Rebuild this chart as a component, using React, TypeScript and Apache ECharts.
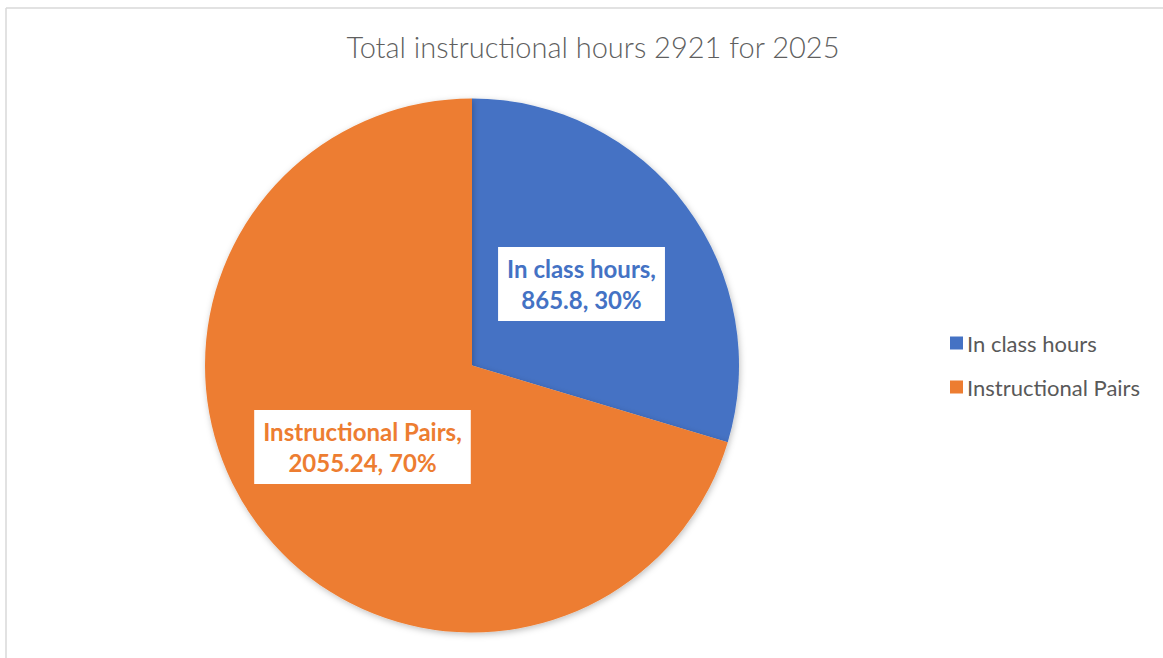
import React, { useEffect, useRef } from "react";
import * as echarts from "echarts";

const titleText = "Total instructional hours 2921 for 2025";
const categories = ["In class hours", "Instructional Pairs"];
const values = [865.8, 2055.24];
const percents = [30, 70];
const colors = ["#4472C4", "#ED7D31"];

export default function App() {
  const ref = useRef<HTMLDivElement>(null);
  useEffect(() => {
    document.body.style.margin = "0";
    const chart = echarts.init(ref.current!, null, { renderer: "svg" });
    const data = categories.map((name, i) => ({
      name,
      value: values[i],
      itemStyle: { color: colors[i] },
      label: { color: colors[i] },
    }));
    chart.setOption({
      animation: false,
      backgroundColor: "#ffffff",
      title: {
        text: titleText,
        left: 588,
        textAlign: "center",
        top: 27,
        textStyle: {
          fontFamily: "Lato",
          fontWeight: 300,
          fontSize: 29,
          color: "#5f5f5f",
        },
      },
      legend: {
        orient: "vertical",
        left: 945,
        top: 327,
        icon: "rect",
        itemWidth: 13,
        itemHeight: 13,
        itemGap: 22,
        data: categories,
        textStyle: {
          fontFamily: "Lato",
          fontSize: 22,
          color: "#595959",
          padding: [0, 0, 0, -1],
        },
      },
      graphic: [
        {
          type: "line",
          shape: { x1: 6, y1: 8, x2: 1163, y2: 8 },
          style: { stroke: "#d9d9d9", lineWidth: 1.5 },
          silent: true,
        },
        {
          type: "line",
          shape: { x1: 6, y1: 8, x2: 6, y2: 658 },
          style: { stroke: "#d9d9d9", lineWidth: 1.5 },
          silent: true,
        },
      ],
      series: [
        {
          type: "pie",
          center: [472, 365.5],
          radius: [0, 267],
          startAngle: 90,
          clockwise: true,
          data,
          itemStyle: {
            borderWidth: 0,
            shadowBlur: 6,
            shadowColor: "rgba(0,0,0,0.25)",
            shadowOffsetX: 1,
            shadowOffsetY: 2,
          },
          label: {
            show: true,
            position: "inside",
            formatter: (p: any) =>
              `${p.name},\n${p.value}, ${percents[p.dataIndex]}%`,
            fontFamily: "Lato",
            fontWeight: "bold",
            fontSize: 24,
            lineHeight: 31,
            backgroundColor: "#ffffff",
            padding: [6, 9, 6, 9],
            align: "center",
          },
          labelLine: { show: false },
          emphasis: { disabled: true },
        },
      ],
    });
    return () => chart.dispose();
  }, []);
  return <div ref={ref} style={{ width: 1163, height: 658 }} />;
}
